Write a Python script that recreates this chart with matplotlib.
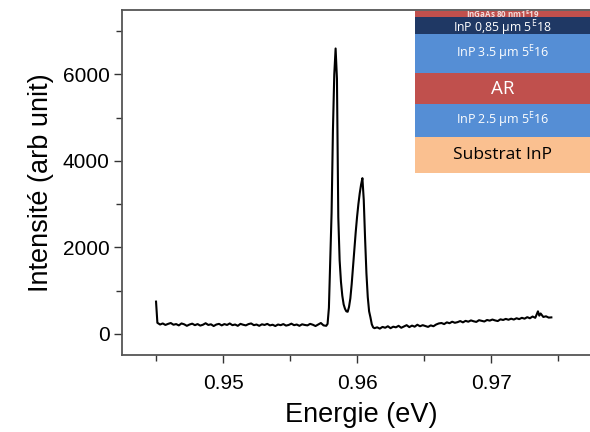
import matplotlib
matplotlib.use("Agg")
import matplotlib.pyplot as plt

plt.rcParams["font.family"] = ["Liberation Sans", "DejaVu Sans"]

# -------------------------
# Spectrum
# -------------------------
energy_before = [
    0.9450, 0.9451, 0.9453, 0.9455, 0.9457, 0.9459, 0.9461, 0.9463, 0.9465, 0.9467,
    0.9469, 0.9471, 0.9473, 0.9475, 0.9477, 0.9479, 0.9481, 0.9483, 0.9485, 0.9487,
    0.9489, 0.9491, 0.9493, 0.9495, 0.9497, 0.9499, 0.9501, 0.9503, 0.9505, 0.9507,
    0.9509, 0.9511, 0.9513, 0.9515, 0.9517, 0.9519, 0.9521, 0.9523, 0.9525, 0.9527,
    0.9529, 0.9531, 0.9533, 0.9535, 0.9537, 0.9539, 0.9541, 0.9543, 0.9545, 0.9547,
    0.9549, 0.9551, 0.9553, 0.9555, 0.9557, 0.9559, 0.9561, 0.9563, 0.9565, 0.9567,
    0.9569, 0.9571, 0.9573, 0.9575, 0.9577,
]
intensity_before = [
    745, 255, 215, 240, 205, 230, 250, 210, 225, 195,
    240, 220, 185, 215, 235, 200, 225, 190, 210, 245,
    205, 220, 180, 215, 230, 195, 225, 205, 240, 200,
    215, 185, 230, 210, 195, 225, 240, 200, 215, 185,
    220, 205, 230, 195, 210, 180, 215, 200, 225, 190,
    205, 235, 200, 215, 185, 220, 205, 195, 230, 210,
    180, 215, 250, 195, 185,
]

energy_peaks = [
    0.9578, 0.9579, 0.9580, 0.9581, 0.9582, 0.9583, 0.9584, 0.9585, 0.9586, 0.9587,
    0.9588, 0.9589, 0.9590, 0.9591, 0.9592, 0.9593, 0.9594, 0.9595, 0.9596, 0.9597,
    0.9598, 0.9599, 0.9600, 0.9601, 0.9602, 0.9603, 0.9604, 0.9605, 0.9606, 0.9607,
    0.9608, 0.9609, 0.9610, 0.9611, 0.9612, 0.9613,
]
intensity_peaks = [
    230, 600, 1700, 2800, 4700, 6000, 6600, 5900, 2700, 1700,
    1200, 880, 680, 580, 520, 510, 620, 820, 1150, 1550,
    1950, 2350, 2700, 3000, 3250, 3450, 3600, 3100, 2200, 1400,
    850, 520, 380, 220, 150, 130,
]

energy_after = [
    0.9615, 0.9617, 0.9619, 0.9621, 0.9623, 0.9625, 0.9627, 0.9629, 0.9631, 0.9633,
    0.9635, 0.9637, 0.9639, 0.9641, 0.9643, 0.9645, 0.9647, 0.9649, 0.9651, 0.9653,
    0.9655, 0.9657, 0.9659, 0.9661, 0.9663, 0.9665, 0.9667, 0.9669, 0.9671, 0.9673,
    0.9675, 0.9677, 0.9679, 0.9681, 0.9683, 0.9685, 0.9687, 0.9689, 0.9691, 0.9693,
    0.9695, 0.9697, 0.9699, 0.9701, 0.9703, 0.9705, 0.9707, 0.9709, 0.9711, 0.9713,
    0.9715, 0.9717, 0.9719, 0.9721, 0.9723, 0.9725, 0.9727, 0.9729, 0.9731, 0.9733,
    0.9735, 0.9736, 0.9737, 0.9739, 0.9741, 0.9743, 0.9745,
]
intensity_after = [
    150, 120, 160, 140, 175, 130, 165, 150, 185, 140,
    170, 200, 155, 190, 165, 210, 175, 200, 180, 160,
    195, 175, 215, 240, 250, 225, 265, 245, 280, 255,
    270, 295, 265, 300, 280, 310, 290, 275, 315, 300,
    285, 320, 305, 330, 310, 295, 335, 320, 345, 325,
    350, 330, 360, 340, 370, 350, 385, 360, 400, 370,
    520, 420, 470, 390, 405, 375, 380,
]

energy = energy_before + energy_peaks + energy_after
intensity = intensity_before + intensity_peaks + intensity_after

# -------------------------
# Layer stack (top to bottom)
# -------------------------
layer_labels = [
    r"InGaAs 80 nm1$^\mathregular{E}$19",
    r"InP 0,85 µm 5$^\mathregular{E}$18",
    r"InP 3.5 µm 5$^\mathregular{E}$16",
    "AR",
    r"InP 2.5 µm 5$^\mathregular{E}$16",
    "Substrat InP",
]
layer_thickness = [6, 17, 39, 31, 33, 36]
layer_colors = ["#c0504d", "#1f3864", "#558ed5", "#c0504d", "#558ed5", "#fac090"]
layer_text_colors = ["#f2dcdb", "white", "white", "white", "white", "black"]
layer_font_sizes = [5.8, 8.8, 9, 13.5, 9, 12.5]
layer_text_shift = [0, -3, 0, 0, 0, 0]

# -------------------------
# Plot
# -------------------------
fig = plt.figure(figsize=(5.9, 4.32), dpi=100)
ax = fig.add_axes([122 / 590, 77 / 432, 478 / 590, 345 / 432])

ax.plot(energy, intensity, color="black", lw=1.5)

ax.set_xlim(0.94246, 0.97813)
ax.set_ylim(-490, 7490)
ax.set_xticks([0.95, 0.96, 0.97])
ax.set_xticklabels(["0.95", "0.96", "0.97"])
ax.set_xticks([0.945, 0.955, 0.965, 0.975], minor=True)
ax.set_yticks([0, 2000, 4000, 6000])
ax.set_yticks([1000, 3000, 5000, 7000], minor=True)

for side in ["left", "bottom", "top", "right"]:
    ax.spines[side].set_color("#555555")
    ax.spines[side].set_linewidth(1.3)
ax.tick_params(which="major", length=6, width=1, color="#333333", labelsize=15, pad=3)
ax.tick_params(which="minor", length=4, width=1, color="#333333")
ax.tick_params(axis="x", which="major", pad=8)

ax.set_xlabel("Energie (eV)", fontsize=19.5, labelpad=6)
ax.set_ylabel("Intensité (arb unit)", fontsize=19.5, labelpad=6)

# inset with the layer stack
ins = fig.add_axes([415 / 590, (432 - 173) / 432, 175 / 590, 162 / 432])
total = sum(layer_thickness)
top = total
for label, h, c, tc, fs, dy in zip(layer_labels, layer_thickness, layer_colors,
                                   layer_text_colors, layer_font_sizes,
                                   layer_text_shift):
    ins.bar(0.5, h, width=1, bottom=top - h, color=c, edgecolor="none")
    weight = "bold" if fs < 7 else "normal"
    ins.text(0.5, top - h / 2 + dy, label, ha="center", va="center", color=tc,
             fontsize=fs, fontweight=weight, family=["Open Sans", "DejaVu Sans"])
    top -= h
ins.set_xlim(0, 1)
ins.set_ylim(0, total)
ins.axis("off")

fig.savefig("out.png", dpi=100)
